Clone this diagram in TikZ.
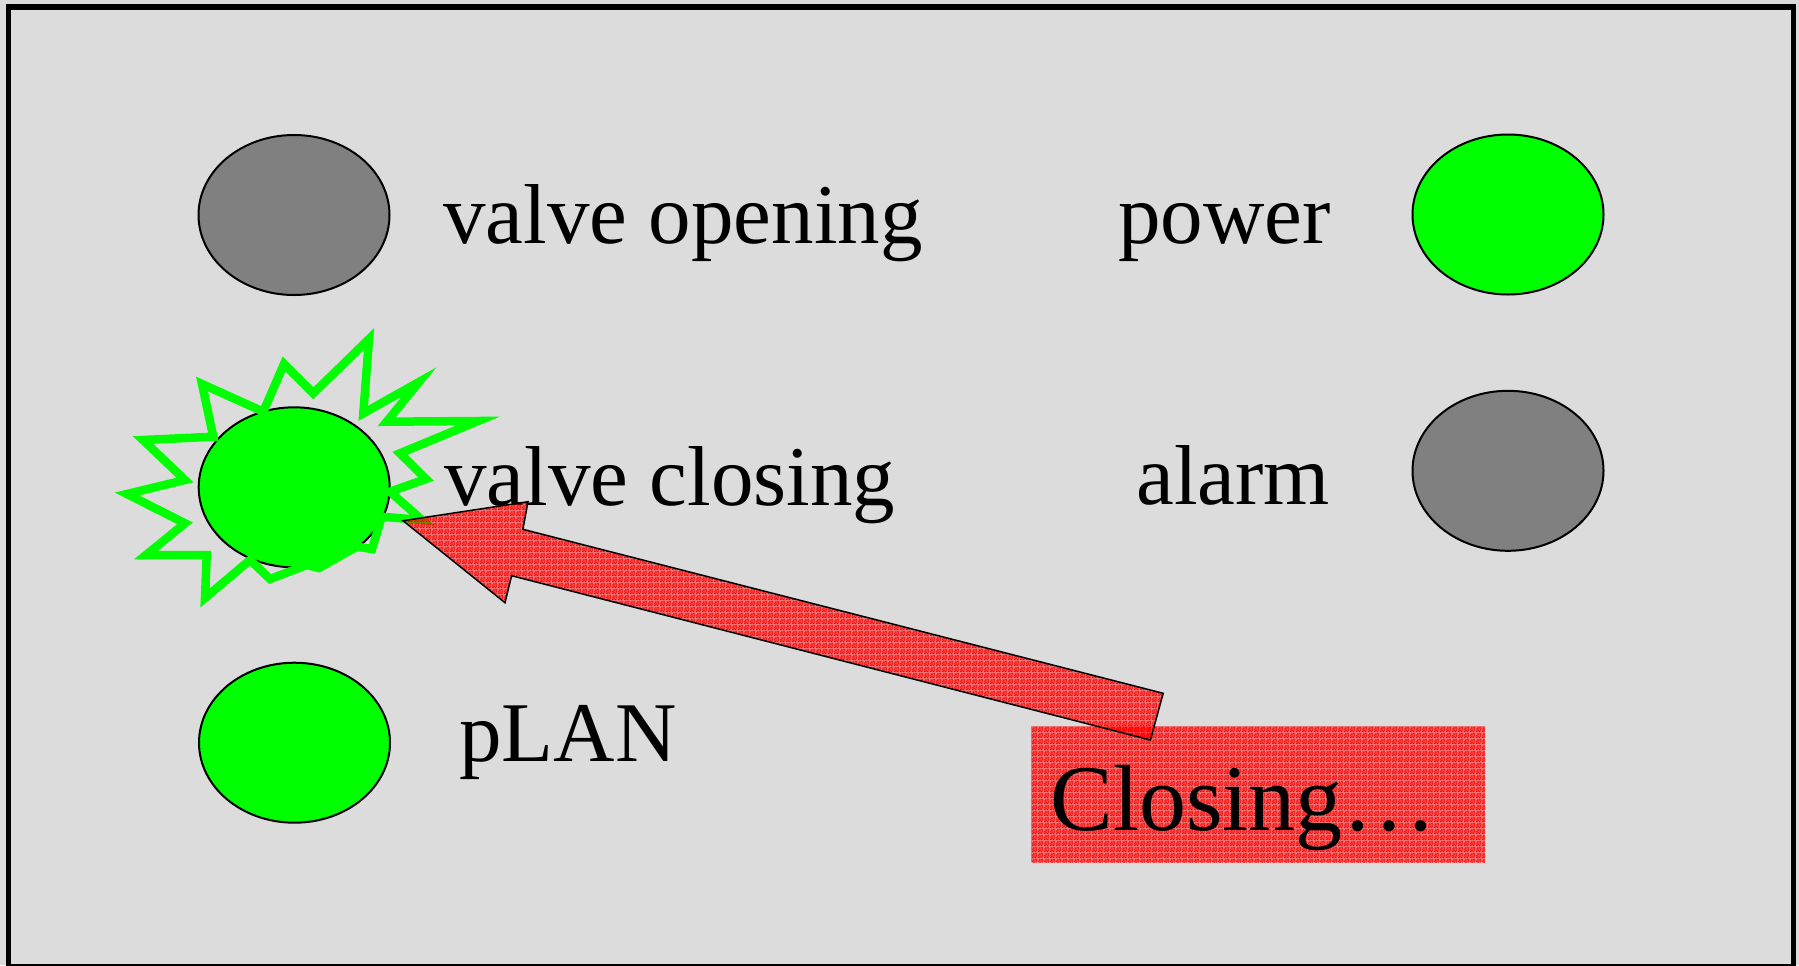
\documentclass[tikz,border=0pt]{standalone}
\usepackage{fontspec}
\setmainfont{Liberation Serif}
\usetikzlibrary{shapes.geometric,patterns.meta}

\definecolor{panelgrey}{RGB}{220,220,220}
\definecolor{lampgrey}{RGB}{128,128,128}
\definecolor{lampgreen}{RGB}{0,255,0}
\definecolor{alertred}{RGB}{255,0,0}

% fine red speckle on a transparent ground
\tikzdeclarepattern{
  name=speckle,
  type=uncolored,
  bottom left={(0pt,0pt)},
  top right={(3pt,3pt)},
  tile size={(3pt,3pt)},
  code={
    \fill (0pt,0pt) rectangle (1pt,0.5pt);
    \fill (1.5pt,0pt) rectangle (2.5pt,0.5pt);
    \fill (0.5pt,0.5pt) rectangle (2pt,1pt);
    \fill (2.5pt,0.5pt) rectangle (3pt,1pt);
    \fill (0pt,1pt) rectangle (0.5pt,1.5pt);
    \fill (1pt,1pt) rectangle (1.5pt,1.5pt);
    \fill (2pt,1pt) rectangle (3pt,1.5pt);
    \fill (0pt,1.5pt) rectangle (1.5pt,2pt);
    \fill (2.5pt,1.5pt) rectangle (3pt,2pt);
    \fill (0.5pt,2pt) rectangle (1.5pt,2.5pt);
    \fill (2pt,2pt) rectangle (3pt,2.5pt);
    \fill (0.5pt,2.5pt) rectangle (1pt,3pt);
    \fill (1.5pt,2.5pt) rectangle (3pt,3pt);
  }
}

\begin{document}
\begin{tikzpicture}[x=0.5pt,y=-0.5pt,
  lamp/.style={ellipse, draw=black, line width=1pt, inner sep=0pt,
    minimum width=95.5pt, minimum height=80pt},
  lampdark/.style={lamp, fill=lampgrey},
  lamplit/.style={lamp, fill=lampgreen},
  lamptext/.style={anchor=base west, inner sep=0pt,
    font=\fontsize{42.5}{50}\selectfont},
  speckled/.style={preaction={fill=alertred, fill opacity=0.45},
    pattern=speckle, pattern color=alertred},
  burst/.style={draw=lampgreen, line width=4.25pt, line join=miter},
  blockarrow/.style={speckled, draw=black, line width=0.75pt, line join=miter}
]
\useasboundingbox (0,0) rectangle (1799,965);

% panel
\fill[panelgrey] (0,0) rectangle (1799,965);
\draw[line width=2.75pt] (8.5,7) rectangle (1793.5,966.5);

% status box
\node[speckled, inner sep=0pt, minimum width=227pt, minimum height=68pt]
  (statusbox) at (1258,794) {};
\node[anchor=base west, inner sep=0pt, font=\fontsize{47}{56}\selectfont]
  (statustext) at (1050,830) {Closing…};

% lamps
\node[lampdark] (lampOpen)  at (294,215)     {};
\node[lamplit]  (lampPower) at (1508,214.5)  {};
\node[lamplit]  (lampClose) at (294.2,487.3) {};
\node[lampdark] (lampAlarm) at (1508,470.8)  {};
\node[lamplit]  (lampPlan)  at (294.5,742.7) {};

% flashing burst around the active lamp
\draw[burst] (369,339) -- (363.3,413.3) -- (419,382) -- (386.7,421.7)
  -- (478,421) -- (400,453.3) -- (426,479) -- (390,491.7)
  -- (422,520) -- (381.7,516.7) -- (372,549) -- (356.7,546.7)
  -- (319,568) -- (306.7,565) -- (270,579) -- (250,560)
  -- (205,598) -- (206.7,555) -- (146,555) -- (185,523.3)
  -- (127,494) -- (185,480) -- (143,440) -- (213.3,436.7)
  -- (202,384) -- (263.3,411.7) -- (284,364) -- (313.3,393.3)
  -- cycle;

% lamp captions
\node[lamptext] (txtOpen)  at (443,243.3)  {valve opening};
\node[lamptext] (txtPower) at (1118,243.3) {power};
\node[lamptext] (txtClose) at (444,505.5)  {valve closing};
\node[lamptext] (txtAlarm) at (1136,504)   {alarm};
\node[lamptext] (txtPlan)  at (459,761.7)  {pLAN};

% block arrow from the status box to the closing lamp
\coordinate (arrowTip)  at (403,520.7);
\coordinate (arrowTail) at (1157,716.5);
\draw[blockarrow] (arrowTip) -- (528,501.7) -- (522.9,529.3)
  -- (1163.2,693.3) -- (1150.4,740) -- (511.6,575.7) -- (505,602.7) -- cycle;
\end{tikzpicture}
\end{document}
